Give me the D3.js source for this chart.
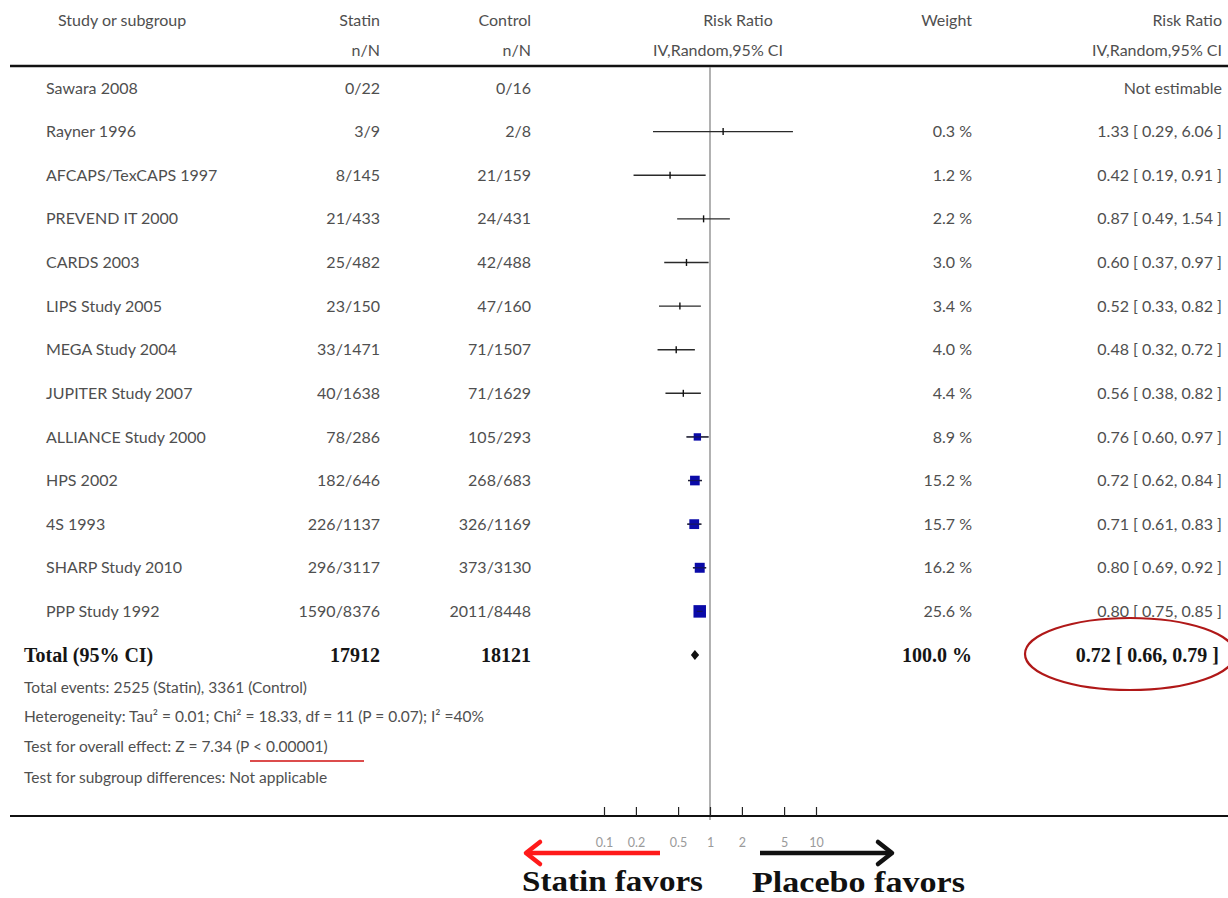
<!DOCTYPE html>
<html>
<head>
<meta charset="utf-8">
<script src="https://cdn.jsdelivr.net/npm/d3@7"></script>
<style>
  html, body { margin: 0; padding: 0; background: #fff; }
  svg { display: block; }
</style>
</head>
<body>
<svg id="chart" width="1228" height="898"></svg>
<script>
// Study-level data
const studies = ["Sawara 2008", "Rayner 1996", "AFCAPS/TexCAPS 1997", "PREVEND IT 2000", "CARDS 2003",
  "LIPS Study 2005", "MEGA Study 2004", "JUPITER Study 2007", "ALLIANCE Study 2000", "HPS 2002",
  "4S 1993", "SHARP Study 2010", "PPP Study 1992"];
const statinEvents = ["0/22", "3/9", "8/145", "21/433", "25/482", "23/150", "33/1471", "40/1638",
  "78/286", "182/646", "226/1137", "296/3117", "1590/8376"];
const controlEvents = ["0/16", "2/8", "21/159", "24/431", "42/488", "47/160", "71/1507", "71/1629",
  "105/293", "268/683", "326/1169", "373/3130", "2011/8448"];
const rr    = [null, 1.33, 0.42, 0.87, 0.60, 0.52, 0.48, 0.56, 0.76, 0.72, 0.71, 0.80, 0.80];
const lower = [null, 0.29, 0.19, 0.49, 0.37, 0.33, 0.32, 0.38, 0.60, 0.62, 0.61, 0.69, 0.75];
const upper = [null, 6.06, 0.91, 1.54, 0.97, 0.82, 0.72, 0.82, 0.97, 0.84, 0.83, 0.92, 0.85];
const weights = [null, 0.3, 1.2, 2.2, 3.0, 3.4, 4.0, 4.4, 8.9, 15.2, 15.7, 16.2, 25.6];

// Pooled estimate
const totalLabel = "Total (95% CI)";
const totalN = ["17912", "18121"];
const totalRR = 0.72, totalLower = 0.66, totalUpper = 0.79, totalWeight = 100.0;

const footerLines = [
  "Total events: 2525 (Statin), 3361 (Control)",
  "Heterogeneity: Tau\u00B2 = 0.01; Chi\u00B2 = 18.33, df = 11 (P = 0.07); I\u00B2 =40%",
  "Test for overall effect: Z = 7.34 (P < 0.00001)",
  "Test for subgroup differences: Not applicable"
];
const axisTicks = [0.1, 0.2, 0.5, 1, 2, 5, 10];

const svg = d3.select("#chart");
const sans = "Lato, 'Open Sans', sans-serif";
const serif = "'Liberation Serif', 'Times New Roman', serif";
const textCol = "#4f4f4f";

// Scales
const x = d3.scaleLog().domain([0.1, 10]).range([604, 816]);
const rowKeys = studies.concat([totalLabel]);
const y = d3.scalePoint().domain(rowKeys).range([88, 655]);
const box = d3.scaleSqrt().domain([0, 25.6]).range([0, 12.5]);

const fmt2 = d3.format(".2f");
const ciText = (m, l, u) => `${fmt2(m)} [ ${fmt2(l)}, ${fmt2(u)} ]`;

// Header
const hdr = svg.append("g").attr("font-family", sans).attr("font-size", 16).attr("fill", textCol);
hdr.append("text").attr("x", 58).attr("y", 26).text("Study or subgroup");
hdr.append("text").attr("x", 380).attr("y", 26).attr("text-anchor", "end").text("Statin");
hdr.append("text").attr("x", 380).attr("y", 56).attr("text-anchor", "end").text("n/N");
hdr.append("text").attr("x", 531).attr("y", 26).attr("text-anchor", "end").text("Control");
hdr.append("text").attr("x", 531).attr("y", 56).attr("text-anchor", "end").text("n/N");
hdr.append("text").attr("x", 738).attr("y", 26).attr("text-anchor", "middle").text("Risk Ratio");
hdr.append("text").attr("x", 718).attr("y", 56).attr("text-anchor", "middle").text("IV,Random,95% CI");
hdr.append("text").attr("x", 972).attr("y", 26).attr("text-anchor", "end").text("Weight");
hdr.append("text").attr("x", 1222).attr("y", 26).attr("text-anchor", "end").text("Risk Ratio");
hdr.append("text").attr("x", 1222).attr("y", 56).attr("text-anchor", "end").text("IV,Random,95% CI");

// Horizontal rules
svg.append("line").attr("x1", 10).attr("x2", 1228).attr("y1", 66).attr("y2", 66)
  .attr("stroke", "#111").attr("stroke-width", 2.5);

// Line of no effect
svg.append("line").attr("x1", x(1)).attr("x2", x(1)).attr("y1", 67).attr("y2", 820)
  .attr("stroke", "#888").attr("stroke-width", 1.3);

// Study rows
const rows = svg.append("g").attr("font-family", sans).attr("font-size", 16).attr("fill", textCol);
studies.forEach((s, i) => {
  const yy = y(s);
  const g = rows.append("g").attr("transform", `translate(0,${yy})`);
  g.append("text").attr("x", 46).attr("dy", "0.35em").text(s);
  g.append("text").attr("x", 380).attr("dy", "0.35em").attr("text-anchor", "end").text(statinEvents[i]);
  g.append("text").attr("x", 531).attr("dy", "0.35em").attr("text-anchor", "end").text(controlEvents[i]);
  if (rr[i] == null) {
    g.append("text").attr("x", 1222).attr("dy", "0.35em").attr("text-anchor", "end").text("Not estimable");
    return;
  }
  g.append("text").attr("x", 972).attr("dy", "0.35em").attr("text-anchor", "end")
    .text(d3.format(".1f")(weights[i]) + " %");
  g.append("text").attr("x", 1222).attr("dy", "0.35em").attr("text-anchor", "end")
    .text(ciText(rr[i], lower[i], upper[i]));
  // confidence interval
  g.append("line").attr("x1", x(lower[i])).attr("x2", x(upper[i])).attr("y1", 0).attr("y2", 0)
    .attr("stroke", "#2a2a2a").attr("stroke-width", 1.4);
  const s2 = box(weights[i]);
  if (weights[i] < 5) {
    g.append("line").attr("x1", x(rr[i])).attr("x2", x(rr[i])).attr("y1", -3.5).attr("y2", 3.5)
      .attr("stroke", "#111").attr("stroke-width", 1.4);
  } else {
    g.append("rect").attr("x", x(rr[i]) - s2 / 2).attr("y", -s2 / 2)
      .attr("width", s2).attr("height", s2).attr("fill", "#0a0aa8");
    g.append("line").attr("x1", x(lower[i])).attr("x2", x(upper[i])).attr("y1", 0).attr("y2", 0)
      .attr("stroke", "#1a1a40").attr("stroke-width", 1.2).attr("opacity", 0.7);
  }
});

// Total row
const ty = y(totalLabel);
const tg = svg.append("g").attr("transform", `translate(0,${ty})`)
  .attr("font-family", serif).attr("font-size", 20).attr("font-weight", "bold").attr("fill", "#151515");
tg.append("text").attr("x", 24).attr("dy", "0.35em").text(totalLabel);
tg.append("text").attr("x", 380).attr("dy", "0.35em").attr("text-anchor", "end").text(totalN[0]);
tg.append("text").attr("x", 531).attr("dy", "0.35em").attr("text-anchor", "end").text(totalN[1]);
tg.append("text").attr("x", 972).attr("dy", "0.35em").attr("text-anchor", "end")
  .text(d3.format(".1f")(totalWeight) + " %");
tg.append("text").attr("x", 1219).attr("dy", "0.35em").attr("text-anchor", "end")
  .text(ciText(totalRR, totalLower, totalUpper));
tg.append("path")
  .attr("d", `M${x(totalLower)},0 L${x(totalRR)},-5 L${x(totalUpper)},0 L${x(totalRR)},5 Z`)
  .attr("fill", "#111");

// Footer notes
const ft = svg.append("g").attr("font-family", sans).attr("font-size", 15.5).attr("fill", textCol);
const footY = [688, 717, 747, 778];
footerLines.forEach((t, i) => {
  ft.append("text").attr("x", 24).attr("y", footY[i]).attr("dy", "0.35em").text(t);
});

// Red underline of the p-value
svg.append("line").attr("x1", 250).attr("x2", 364).attr("y1", 761).attr("y2", 761)
  .attr("stroke", "#d01010").attr("stroke-width", 1.5);

// Red ellipse around the pooled estimate
svg.append("ellipse").attr("cx", 1130).attr("cy", 654).attr("rx", 105).attr("ry", 36)
  .attr("fill", "none").attr("stroke", "#b01818").attr("stroke-width", 2.2);

// Axis
svg.append("line").attr("x1", 10).attr("x2", 1228).attr("y1", 816).attr("y2", 816)
  .attr("stroke", "#111").attr("stroke-width", 2);
const axis = d3.axisTop(x).tickValues(axisTicks).tickSize(9).tickFormat(d3.format("~g"));
const ax = svg.append("g").attr("transform", "translate(0,816)").call(axis);
ax.select(".domain").remove();
ax.selectAll(".tick line").attr("stroke", "#222").attr("stroke-width", 1.2);
ax.selectAll(".tick text").attr("y", 27).attr("dy", "0.35em").attr("font-family", sans)
  .attr("font-size", 12.5).attr("fill", "#9a9a9a");

// Direction arrows
function arrow(x0, x1, yy, col) {
  const dir = x1 > x0 ? 1 : -1;
  const g = svg.append("g").attr("stroke", col).attr("stroke-width", 4.5)
    .attr("fill", "none").attr("stroke-linecap", "round").attr("stroke-linejoin", "round");
  g.append("line").attr("x1", x0).attr("x2", x1).attr("y1", yy).attr("y2", yy).attr("stroke-linecap", "butt");
  g.append("path").attr("d", `M${x1 - dir * 14},${yy - 11} L${x1},${yy} L${x1 - dir * 14},${yy + 11}`);
}
arrow(660, 526, 853, "#ff1a1a");
arrow(760, 892, 853, "#111");

const lab = svg.append("g").attr("font-family", serif).attr("font-weight", "bold")
  .attr("font-size", 30).attr("fill", "#111");
lab.append("text").attr("x", 522).attr("y", 891).attr("textLength", 181)
  .attr("lengthAdjust", "spacingAndGlyphs").text("Statin favors");
lab.append("text").attr("x", 752).attr("y", 892).attr("textLength", 213)
  .attr("lengthAdjust", "spacingAndGlyphs").text("Placebo favors");
</script>
</body>
</html>
